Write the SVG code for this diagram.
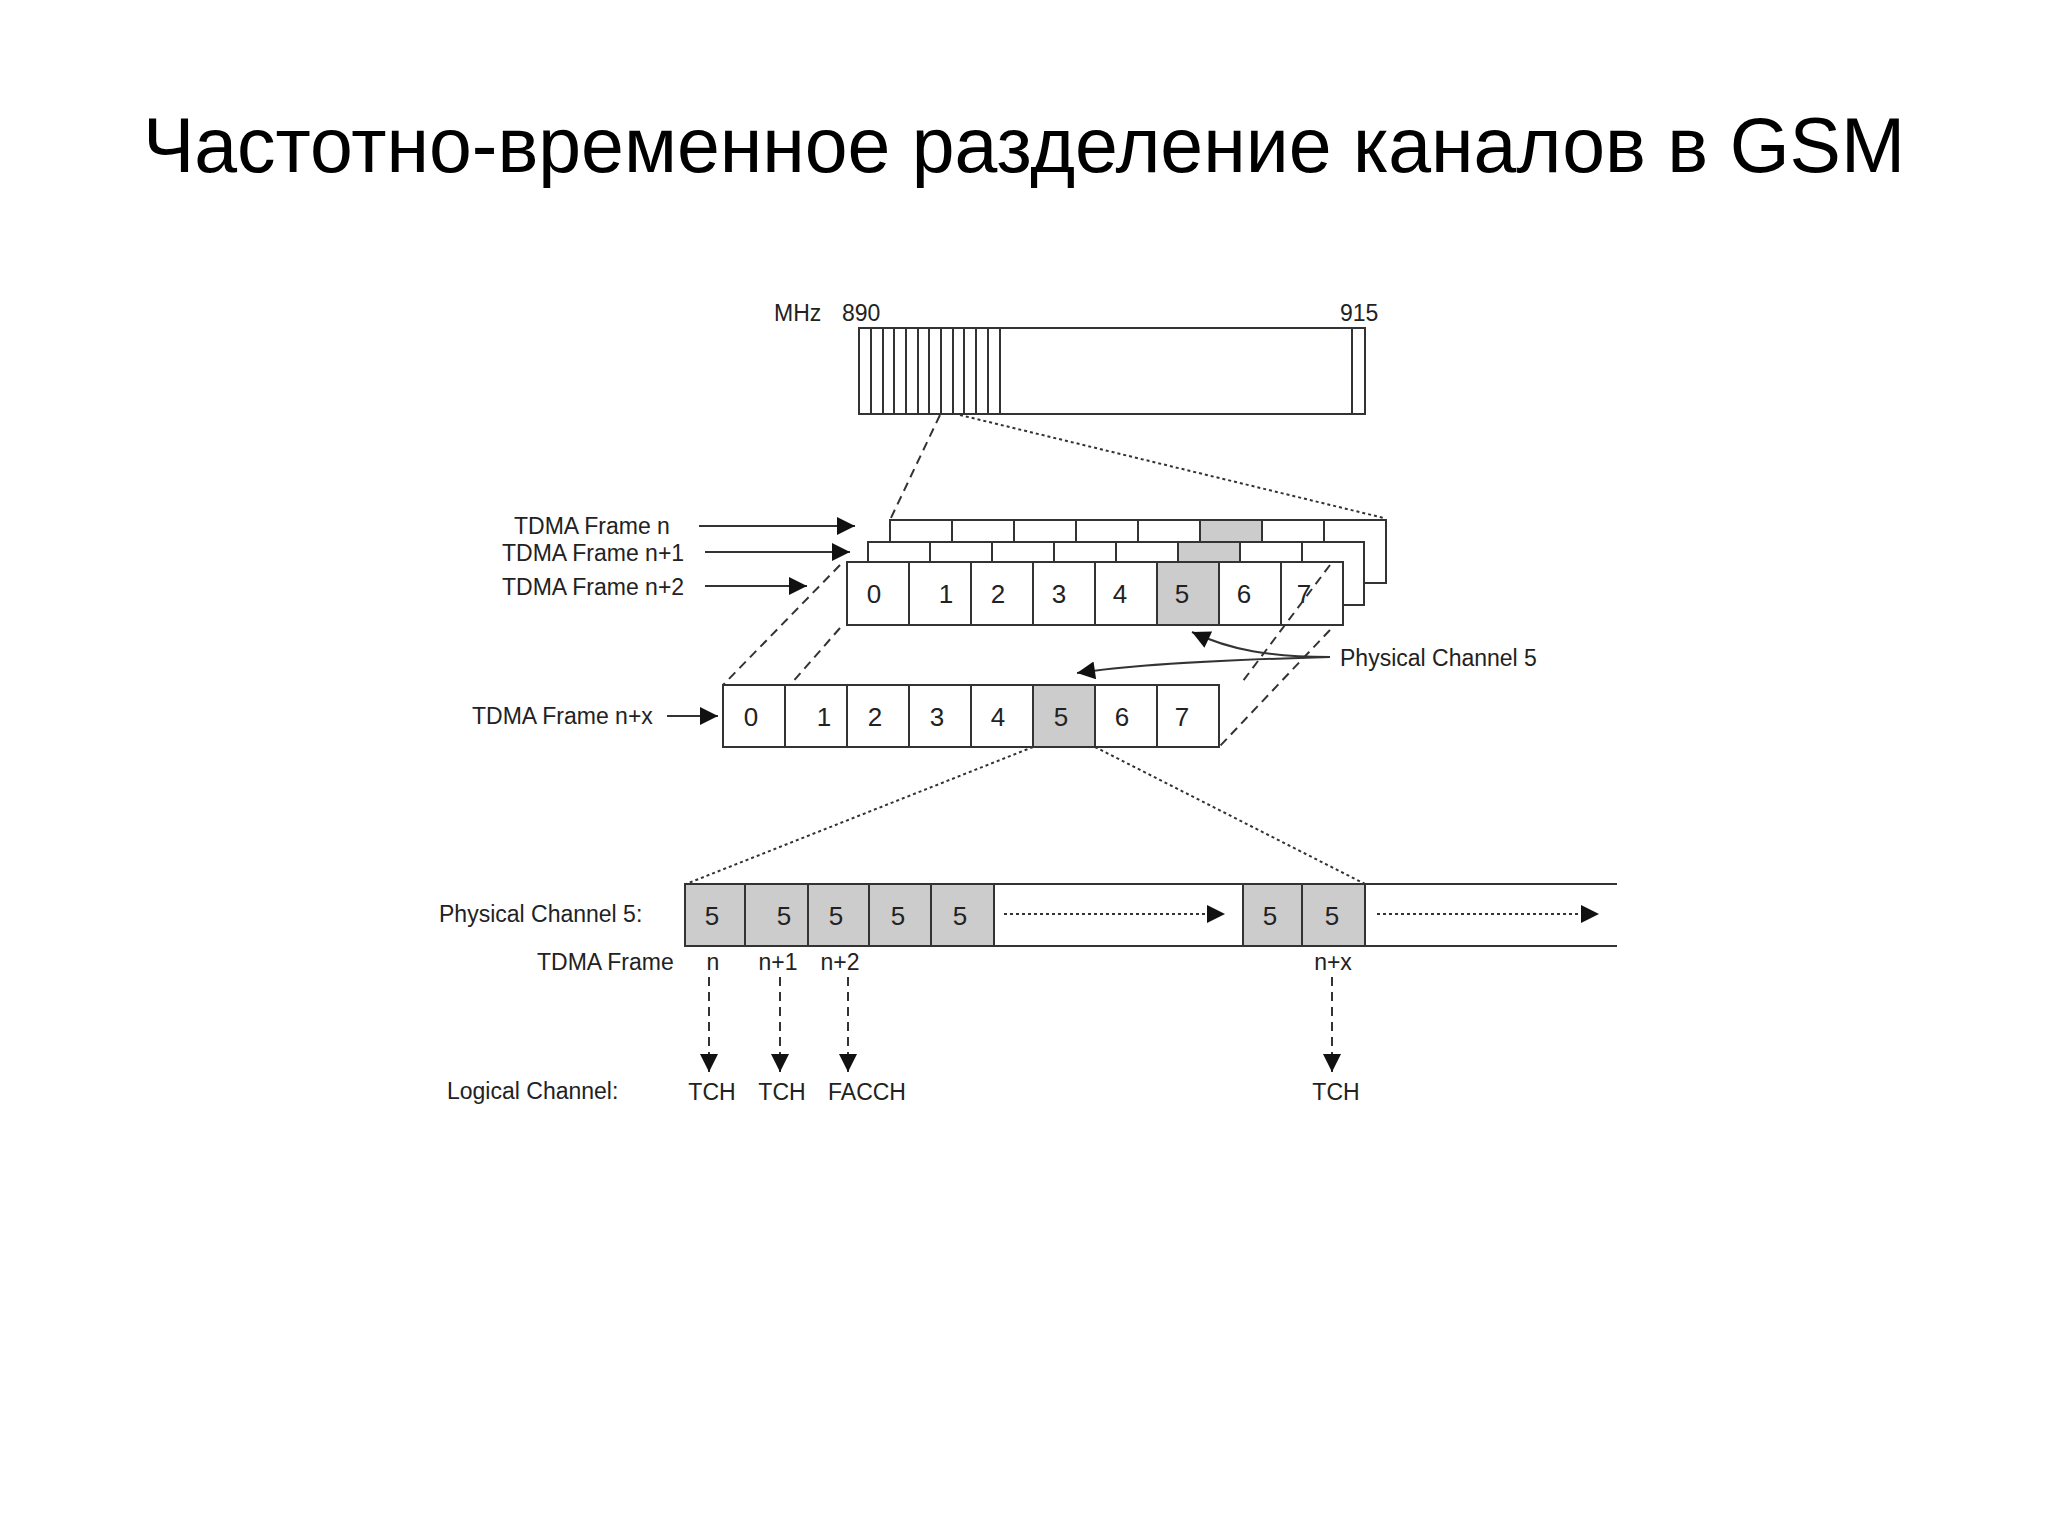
<svg xmlns="http://www.w3.org/2000/svg" width="2048" height="1535" viewBox="0 0 2048 1535">
<defs>
<style>
text{font-family:"Liberation Sans",Arial,sans-serif;fill:#222}
.t{font-size:23px}
.d{font-size:26px;text-anchor:middle}
.c{fill:#fff;stroke:#333;stroke-width:2}
.g{fill:#ccc;stroke:#333;stroke-width:2}
.ln{stroke:#333;stroke-width:2;fill:none}
.da{stroke:#333;stroke-width:2;stroke-dasharray:9 6;fill:none}
.dt{stroke:#333;stroke-width:2;stroke-dasharray:3 3;fill:none}
</style>
<marker id="ahb" viewBox="0 0 10 10" refX="10" refY="5" markerWidth="24" markerHeight="18" markerUnits="userSpaceOnUse" orient="auto"><path d="M0,0L10,5L0,10z" fill="#111"/></marker>
</defs>
<rect width="2048" height="1535" fill="#fff"/>
<text x="1024" y="172" font-size="77" text-anchor="middle" style="fill:#000">Частотно-временное разделение каналов в GSM</text>

<g id="band">
<rect x="859" y="328" width="506" height="86" class="c"/>
<path class="ln" d="M871,328V414M883,328V414M894,328V414M906,328V414M918,328V414M929,328V414M941,328V414M953,328V414M964,328V414M976,328V414M988,328V414M1000,328V414M1352,328V414"/>
<text x="774" y="321" class="t">MHz</text>
<text x="842" y="321" class="t">890</text>
<text x="1340" y="321" class="t">915</text>
</g>

<g id="frame-n">
<rect x="890" y="520" width="496" height="63" class="c"/>
<rect x="1200" y="520" width="62" height="22" class="g"/>
<path class="ln" d="M952,520V542M1014,520V542M1076,520V542M1138,520V542M1200,520V542M1324,520V542"/>
<text x="514" y="534" class="t">TDMA Frame n</text>
</g>
<g id="frame-n1">
<rect x="868" y="542" width="496" height="63" class="c"/>
<rect x="1178" y="542" width="62" height="20" class="g"/>
<path class="ln" d="M930,542V562M992,542V562M1054,542V562M1116,542V562M1302,542V562"/>
<text x="502" y="561" class="t">TDMA Frame n+1</text>
</g>
<g id="frame-n2">
<rect x="847" y="562" width="496" height="63" class="c"/>
<rect x="1157" y="562" width="62" height="63" class="g"/>
<path class="ln" d="M909,562V625M971,562V625M1033,562V625M1095,562V625M1157,562V625M1219,562V625M1281,562V625"/>
<text x="874" y="603" class="d">0</text><text x="946" y="603" class="d">1</text><text x="998" y="603" class="d">2</text><text x="1059" y="603" class="d">3</text><text x="1120" y="603" class="d">4</text><text x="1182" y="603" class="d">5</text><text x="1244" y="603" class="d">6</text><text x="1304" y="603" class="d">7</text>
<text x="502" y="595" class="t">TDMA Frame n+2</text>
</g>
<g id="frame-nx">
<rect x="723" y="685" width="496" height="62" class="c"/>
<rect x="1033" y="685" width="62" height="62" class="g"/>
<path class="ln" d="M785,685V747M847,685V747M909,685V747M971,685V747M1033,685V747M1095,685V747M1157,685V747"/>
<text x="751" y="726" class="d">0</text><text x="824" y="726" class="d">1</text><text x="875" y="726" class="d">2</text><text x="937" y="726" class="d">3</text><text x="998" y="726" class="d">4</text><text x="1061" y="726" class="d">5</text><text x="1122" y="726" class="d">6</text><text x="1182" y="726" class="d">7</text>
<text x="472" y="724" class="t">TDMA Frame n+x</text>
</g>
<g id="pc-label"><text x="1340" y="666" class="t">Physical Channel 5</text></g>

<g id="pc5">
<rect x="685" y="884" width="932" height="62" fill="#fff" stroke="none"/>
<path class="ln" d="M685,884H1617M685,946H1617"/>
<rect x="685" y="884" width="60" height="62" class="g"/>
<rect x="745" y="884" width="63" height="62" class="g"/>
<rect x="808" y="884" width="61" height="62" class="g"/>
<rect x="869" y="884" width="62" height="62" class="g"/>
<rect x="931" y="884" width="63" height="62" class="g"/>
<rect x="1243" y="884" width="59" height="62" class="g"/>
<rect x="1302" y="884" width="63" height="62" class="g"/>
<text x="712" y="925" class="d">5</text><text x="784" y="925" class="d">5</text><text x="836" y="925" class="d">5</text><text x="898" y="925" class="d">5</text><text x="960" y="925" class="d">5</text><text x="1270" y="925" class="d">5</text><text x="1332" y="925" class="d">5</text>
<text x="439" y="922" class="t">Physical Channel 5:</text>
<text x="537" y="970" class="t">TDMA Frame</text>
<text x="713" y="970" class="t" text-anchor="middle">n</text>
<text x="778" y="970" class="t" text-anchor="middle">n+1</text>
<text x="840" y="970" class="t" text-anchor="middle">n+2</text>
<text x="1333" y="970" class="t" text-anchor="middle">n+x</text>
<text x="447" y="1099" class="t">Logical Channel:</text>
<text x="712" y="1100" class="t" text-anchor="middle">TCH</text>
<text x="782" y="1100" class="t" text-anchor="middle">TCH</text>
<text x="867" y="1100" class="t" text-anchor="middle">FACCH</text>
<text x="1336" y="1100" class="t" text-anchor="middle">TCH</text>
</g>

<g id="connectors">
<path class="da" d="M940,415L890,520"/>
<path class="dt" d="M960,415L1384,518"/>
<path class="ln" d="M699,526H855" marker-end="url(#ahb)"/>
<path class="ln" d="M705,552H850" marker-end="url(#ahb)"/>
<path class="ln" d="M705,586H807" marker-end="url(#ahb)"/>
<path class="ln" d="M667,716H718" marker-end="url(#ahb)"/>
<path class="da" d="M840,565L723,685"/>
<path class="da" d="M840,628L790,685"/>
<path class="da" d="M1330,565L1240,685"/>
<path class="da" d="M1330,630L1219,747"/>
<path class="ln" d="M1330,657C1270,657 1230,650 1192,632" marker-end="url(#ahb)"/>
<path class="ln" d="M1330,657C1220,660 1140,664 1077,673" marker-end="url(#ahb)"/>
<path class="dt" d="M1033,747L686,884"/>
<path class="dt" d="M1095,747L1365,884"/>
<path class="dt" d="M1004,914H1225" marker-end="url(#ahb)"/>
<path class="dt" d="M1377,914H1599" marker-end="url(#ahb)"/>
<path class="da" d="M709,977V1072" marker-end="url(#ahb)"/>
<path class="da" d="M780,977V1072" marker-end="url(#ahb)"/>
<path class="da" d="M848,977V1072" marker-end="url(#ahb)"/>
<path class="da" d="M1332,977V1072" marker-end="url(#ahb)"/>
</g>
</svg>
